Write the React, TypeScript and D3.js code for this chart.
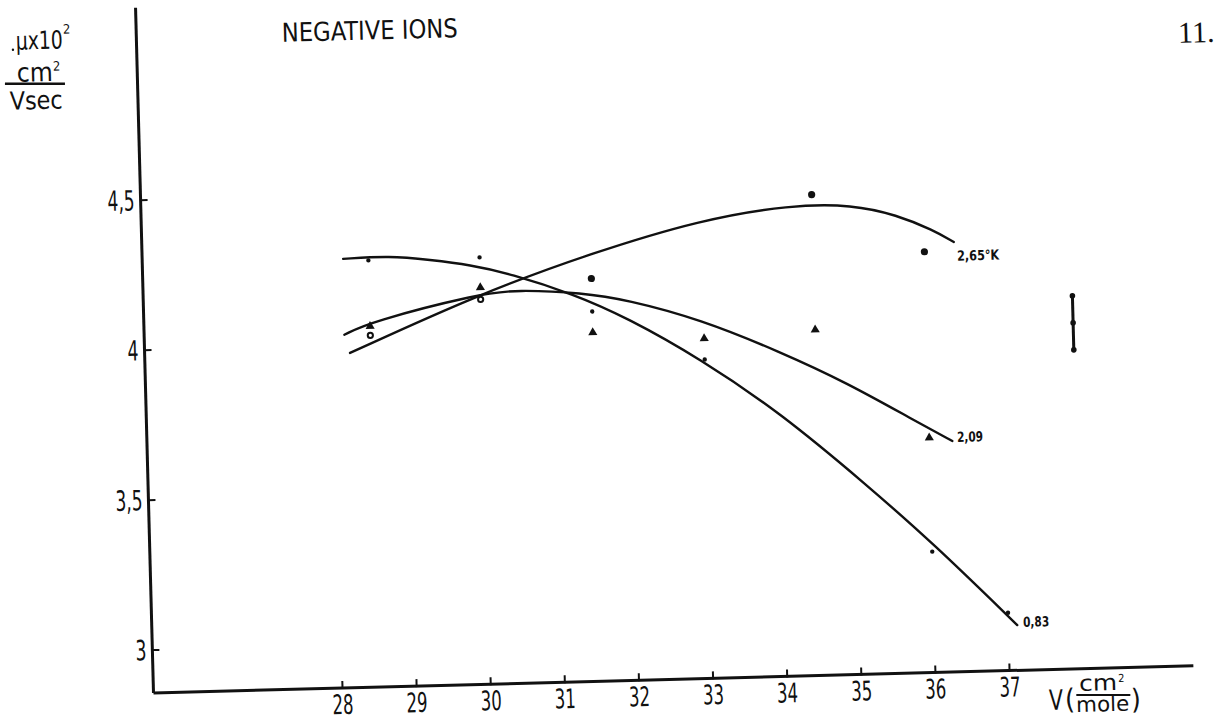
import React from 'react';
import * as d3 from 'd3';

// ---- data ----
const xTicks = [28, 29, 30, 31, 32, 33, 34, 35, 36, 37];
const xTickLabels = ['28', '29', '30', '31', '32', '33', '34', '35', '36', '37'];
const yTicks = [3, 3.5, 4, 4.5];
const yTickLabels = ['3', '3,5', '4', '4,5'];

// measured points (V, mobility)
const pts083: [number, number][] = [[28.5, 4.28], [30, 4.28], [31.5, 4.09], [33, 3.92], [36, 3.26], [37, 3.05]];
const pts209: [number, number][] = [[28.5, 4.06], [30, 4.18], [31.5, 4.02], [33, 3.99], [34.5, 4.01], [36, 3.64]];
const pts265Open: [number, number][] = [[28.5, 4.03], [30, 4.14]];
const pts265: [number, number][] = [[31.5, 4.2], [34.5, 4.46], [36, 4.26]];

// hand-drawn fitted curves
const curve083: [number, number][] = [[28.16, 4.287], [28.79, 4.293], [29.33, 4.276], [29.87, 4.256], [30.41, 4.223], [31.25, 4.15], [31.97, 4.066], [32.94, 3.923], [34.0, 3.736], [35.14, 3.488], [36.01, 3.289], [37.12, 3.008]];
const curve209: [number, number][] = [[28.15, 4.034], [28.5, 4.075], [29.99, 4.159], [30.49, 4.169], [31.38, 4.153], [31.97, 4.126], [32.95, 4.055], [34.02, 3.939], [34.91, 3.83], [35.79, 3.701], [36.31, 3.627]];
const curve265: [number, number][] = [[28.22, 3.973], [29.99, 4.159], [31.52, 4.285], [32.99, 4.386], [34.21, 4.428], [35.05, 4.423], [35.64, 4.385], [36.12, 4.332], [36.4, 4.29]];

// curve labels
const curveLabels = ['2,65°K', '2,09', '0,83'];
const curveLabelPos: [number, number][] = [[36.44, 4.244], [36.375, 3.64], [37.2, 3.018]];

// error bar
const errX = 37.98;
const errY = [3.92, 4.01, 4.1];

// ---- layout ----
const W = 1223, H = 720;
const CX = 153.5, CY = 693; // axis corner
const ANG = -1.5; // scan tilt
const S = Math.sin((1.5 * Math.PI) / 180);

const x = d3.scaleLinear().domain([25.45, 39.48]).range([CX, CX + 1040.2]);
const y = d3.scaleLinear().domain([2.857, 5.142]).range([CY, CY - 685.5]);

// convert a picture position into the unrotated frame
const U = (px: number, py: number): [number, number] => {
  const dx = px - CX, dy = py - CY;
  return [CX + dx - S * dy, CY + S * dx + dy];
};

const FONT = "'Liberation Sans Narrow', 'DejaVu Sans Condensed', 'Liberation Sans', sans-serif";

export default function App() {
  const line = d3
    .line<[number, number]>()
    .x((d) => x(d[0]))
    .y((d) => y(d[1]))
    .curve(d3.curveBasis);
  const tri = d3.symbol().type(d3.symbolTriangle).size(36)() as string;

  const tNeg = U(282, 42);
  const t11 = U(1178, 43);
  const tMu = U(12, 50);
  const tMu2 = U(63, 34);
  const tCm = U(17, 82);
  const tCm2 = U(53, 71);
  const tL1 = U(5, 84);
  const tL2 = U(65, 84);
  const tVs = U(10, 110);
  const tV = U(1049, 710);
  const tP1 = U(1065, 709);
  const tCmX = U(1079, 691);
  const tCmX2 = U(1118, 682);
  const tLx1 = U(1076, 695);
  const tLx2 = U(1130, 695);
  const tMole = U(1076, 712);
  const tP2 = U(1131, 709);
  const tDot = U(13, 50);

  return (
    <svg width={W} height={H} style={{ position: 'absolute', left: 0, top: 0, background: '#fff', display: 'block' }}>
      <rect x={0} y={0} width={W} height={H} fill="#fff" />
      <g transform={`rotate(${ANG}, ${CX}, ${CY})`} fill="#111" stroke="none">
        {/* axes */}
        <line x1={x(25.45)} y1={y(2.857)} x2={x(39.48)} y2={y(2.857)} stroke="#111" strokeWidth={3} />
        <line x1={x(25.45)} y1={y(2.857)} x2={x(25.45)} y2={y(5.142)} stroke="#111" strokeWidth={3} />
        {xTicks.map((t, i) => (
          <g key={'xt' + i}>
            <line x1={x(t)} x2={x(t)} y1={y(2.857) + 1} y2={y(2.857) - 7} stroke="#111" strokeWidth={2} />
            <text x={x(t)} y={y(2.857) + 26} fontFamily={FONT} fontSize={27} textAnchor="middle" textLength={21} lengthAdjust="spacingAndGlyphs">
              {xTickLabels[i]}
            </text>
          </g>
        ))}
        {yTicks.map((t, i) => (
          <g key={'yt' + i}>
            <line x1={x(25.45)} x2={x(25.45) + 7} y1={y(t)} y2={y(t)} stroke="#111" strokeWidth={2} />
            <text x={x(25.45) - 6} y={y(t) + 10} fontFamily={FONT} fontSize={28} textAnchor="end" textLength={yTickLabels[i].length > 1 ? 27 : 11} lengthAdjust="spacingAndGlyphs">
              {yTickLabels[i]}
            </text>
          </g>
        ))}

        {/* curves */}
        {[curve265, curve209, curve083].map((c, i) => (
          <path key={'c' + i} d={line(c) as string} fill="none" stroke="#111" strokeWidth={2.4} strokeLinecap="round" />
        ))}

        {/* markers */}
        {pts083.map((p, i) => (
          <circle key={'a' + i} cx={x(p[0])} cy={y(p[1])} r={2.2} />
        ))}
        {pts209.map((p, i) => (
          <path key={'b' + i} d={tri} transform={`translate(${x(p[0])},${y(p[1])})`} />
        ))}
        {pts265Open.map((p, i) => (
          <circle key={'o' + i} cx={x(p[0])} cy={y(p[1])} r={2.6} fill="none" stroke="#111" strokeWidth={2} />
        ))}
        {pts265.map((p, i) => (
          <circle key={'f' + i} cx={x(p[0])} cy={y(p[1])} r={3.6} />
        ))}

        {/* curve labels */}
        {curveLabels.map((l, i) => (
          <text key={'l' + i} x={x(curveLabelPos[i][0])} y={y(curveLabelPos[i][1]) + 5} fontFamily={FONT} fontWeight="bold" fontSize={14} textLength={l.length > 4 ? 42 : 26} lengthAdjust="spacingAndGlyphs">
            {l}
          </text>
        ))}

        {/* error bar */}
        <line x1={x(errX)} x2={x(errX)} y1={y(errY[0])} y2={y(errY[2])} stroke="#111" strokeWidth={3} />
        {errY.map((v, i) => (
          <circle key={'e' + i} cx={x(errX)} cy={y(v)} r={2.8} />
        ))}

        {/* titles */}
        <text x={tNeg[0]} y={tNeg[1]} fontFamily={FONT} fontSize={26} textLength={176} lengthAdjust="spacingAndGlyphs">NEGATIVE IONS</text>
        <text x={t11[0]} y={t11[1]} fontFamily="'Liberation Serif', 'DejaVu Serif', serif" fontSize={30}>11.</text>

        {/* y-axis unit */}
        <circle cx={tDot[0]} cy={tDot[1]} r={1.2} />
        <text x={tMu[0] + 4} y={tMu[1]} fontFamily={FONT} fontSize={25} textLength={47} lengthAdjust="spacingAndGlyphs">μx10</text>
        <text x={tMu2[0]} y={tMu2[1]} fontFamily={FONT} fontSize={13}>2</text>
        <text x={tCm[0]} y={tCm[1]} fontFamily={FONT} fontSize={26} textLength={36} lengthAdjust="spacingAndGlyphs">cm</text>
        <text x={tCm2[0]} y={tCm2[1]} fontFamily={FONT} fontSize={13}>2</text>
        <line x1={tL1[0]} y1={tL1[1]} x2={tL2[0]} y2={tL2[1]} stroke="#111" strokeWidth={2.5} />
        <text x={tVs[0]} y={tVs[1]} fontFamily={FONT} fontSize={25} textLength={53} lengthAdjust="spacingAndGlyphs">Vsec</text>

        {/* x-axis unit */}
        <text x={tV[0]} y={tV[1]} fontFamily={FONT} fontSize={28} textLength={14} lengthAdjust="spacingAndGlyphs">V</text>
        <text x={tP1[0]} y={tP1[1]} fontFamily={FONT} fontSize={28}>(</text>
        <text x={tCmX[0]} y={tCmX[1]} fontFamily={FONT} fontSize={22} textLength={38} lengthAdjust="spacingAndGlyphs">cm</text>
        <text x={tCmX2[0]} y={tCmX2[1]} fontFamily={FONT} fontSize={11}>2</text>
        <line x1={tLx1[0]} y1={tLx1[1]} x2={tLx2[0]} y2={tLx2[1]} stroke="#111" strokeWidth={2.2} />
        <text x={tMole[0]} y={tMole[1]} fontFamily={FONT} fontSize={21} textLength={53} lengthAdjust="spacingAndGlyphs">mole</text>
        <text x={tP2[0]} y={tP2[1]} fontFamily={FONT} fontSize={28}>)</text>
      </g>
    </svg>
  );
}
